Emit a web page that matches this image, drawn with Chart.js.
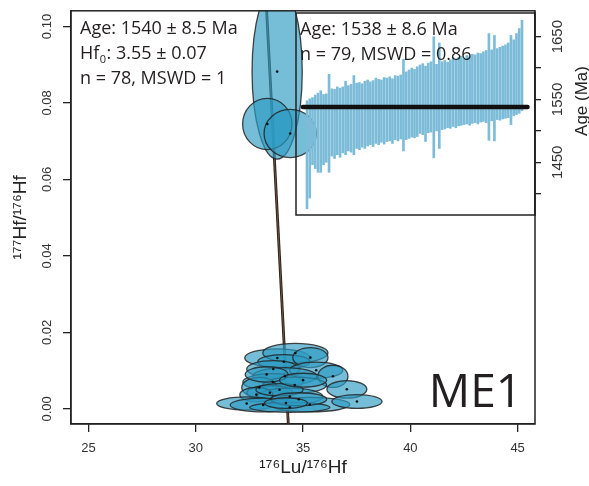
<!DOCTYPE html>
<html>
<head>
<meta charset="utf-8">
<script src="https://cdn.jsdelivr.net/npm/chart.js@4.4.0/dist/chart.umd.min.js"></script>
<style>
  html, body { margin: 0; padding: 0; background: #fff; }
  #wrap { position: relative; width: 589px; height: 486px; overflow: hidden; }
  #main { position: absolute; left: 0; top: 0; }
  #inset { position: absolute; left: 292px; top: 4px; }
</style>
</head>
<body>
<div id="wrap">
  <canvas id="main" width="589" height="486"></canvas>
  <canvas id="inset" width="297" height="220"></canvas>
</div>
<script>
// isochron error ellipses: centre and half axes, in data units
const ellX  = [33.79, 33.33, 34.40,
               33.80, 34.64, 34.10, 35.34, 33.61, 35.61, 36.39, 34.15, 33.59, 34.61, 32.96,
               37.04, 33.45, 34.38, 32.82, 32.37, 33.14, 35.31, 34.38, 37.51, 33.90, 34.80,
               33.30, 35.00, 34.20];
const ellY  = [0.0882, 0.0745, 0.0720,
               0.0133, 0.0146, 0.0123, 0.0134, 0.0104, 0.0101, 0.0085, 0.0085, 0.0070, 0.0062, 0.0056,
               0.0051, 0.0042, 0.0032, 0.0037, 0.0014, 0.0010, 0.0011, 0.0004, 0.0019, 0.0050, 0.0025,
               0.0090, 0.0075, 0.0015];
const ellSx = [1.17, 1.15, 1.22,
               1.52, 1.52, 1.21, 0.82, 1.24, 1.24, 0.70, 1.49, 1.40, 1.49, 0.82,
               0.93, 1.07, 1.54, 0.77, 1.40, 1.54, 1.87, 1.87, 1.17, 1.10, 1.30,
               1.00, 1.10, 1.00];
const ellSy = [0.0229, 0.0067, 0.0063,
               0.0024, 0.0025, 0.0019, 0.0026, 0.0022, 0.0021, 0.0029, 0.0023, 0.0022, 0.0021, 0.0026,
               0.0023, 0.0019, 0.0022, 0.0019, 0.0017, 0.0018, 0.0019, 0.0013, 0.0018, 0.0016, 0.0017,
               0.0020, 0.0018, 0.0014];

// regression line
const isoLineX = [34.31, 33.30];
const isoLineY = [-0.004, 0.1041];

const xTicks = [25, 30, 35, 40, 45];
const yTicks = [0, 0.02, 0.04, 0.06, 0.08, 0.10];

// inset: single ages with 2s bars, sorted
const ageLow  = [1376, 1393, 1446, 1440, 1434, 1434, 1446, 1450, 1434, 1460,
                 1456, 1462, 1458, 1465, 1462, 1468, 1466, 1462, 1472, 1470,
                 1474, 1472, 1476, 1478, 1475, 1480, 1478, 1482, 1479, 1483,
                 1484, 1480, 1486, 1484, 1487, 1468, 1486, 1488, 1490, 1489,
                 1491, 1496, 1494, 1483, 1497, 1498, 1457, 1500, 1472, 1502,
                 1503, 1505, 1504, 1507, 1505, 1508, 1509, 1510, 1511, 1509,
                 1512, 1513, 1511, 1514, 1515, 1513, 1485, 1516, 1484, 1518,
                 1517, 1519, 1520, 1521, 1510, 1524, 1526, 1528, 1532];
const ageHigh = [1548, 1551, 1553, 1557, 1560, 1564, 1558, 1559, 1590, 1567,
                 1566, 1570, 1568, 1570, 1579, 1572, 1574, 1588, 1576, 1577,
                 1575, 1579, 1581, 1578, 1580, 1584, 1582, 1581, 1585, 1584,
                 1586, 1583, 1588, 1587, 1589, 1614, 1594, 1597, 1600, 1598,
                 1602, 1605, 1607, 1603, 1608, 1610, 1650, 1606, 1640, 1610,
                 1612, 1609, 1613, 1616, 1614, 1617, 1619, 1615, 1620, 1618,
                 1622, 1621, 1624, 1623, 1626, 1628, 1655, 1629, 1652, 1631,
                 1633, 1635, 1637, 1640, 1652, 1645, 1655, 1663, 1676];
const meanAge = 1538;
const meanSpan = [-0.5, 81];
const ageTicks = [1400, 1450, 1500, 1550, 1600, 1650];
const ageTickLabels = [1450, 1550, 1650];

const ink = '#231f20';

// ellipses go on top of the regression line, under the centre dots
const ellipsePlugin = {
  id: 'ellipses',
  afterDatasetDraw(chart, args) {
    if (args.index !== 1) return;
    const {ctx, chartArea: a, scales: {x, y}} = chart;
    ctx.save();
    ctx.beginPath();
    ctx.rect(a.left, a.top, a.right - a.left, a.bottom - a.top);
    ctx.clip();
    ctx.fillStyle = 'rgba(45,155,195,0.65)';
    ctx.strokeStyle = 'rgba(35,35,35,0.85)';
    ctx.lineWidth = 1.3;
    for (let i = 0; i < ellX.length; i++) {
      const cx = x.getPixelForValue(ellX[i]);
      const cy = y.getPixelForValue(ellY[i]);
      const rx = Math.abs(x.getPixelForValue(ellX[i] + ellSx[i]) - cx);
      const ry = Math.abs(y.getPixelForValue(ellY[i] + ellSy[i]) - cy);
      ctx.beginPath();
      ctx.ellipse(cx, cy, rx, ry, 0, 0, Math.PI * 2);
      ctx.fill();
      ctx.stroke();
    }
    ctx.restore();
  }
};

const mainDeco = {
  id: 'mainDeco',
  afterDraw(chart) {
    const {ctx, chartArea: a} = chart;
    ctx.save();
    ctx.strokeStyle = '#222';
    ctx.lineWidth = 1.5;
    ctx.strokeRect(a.left, a.top, a.right - a.left, a.bottom - a.top);

    ctx.fillStyle = ink;
    ctx.textBaseline = 'alphabetic';
    const tx = a.left + 9;
    ctx.font = '18px "Open Sans"';
    ctx.fillText('Age: 1540 ± 8.5 Ma', tx, a.top + 23);
    ctx.fillText('Hf', tx, a.top + 48);
    const w = ctx.measureText('Hf').width;
    ctx.font = '11px "Open Sans"';
    ctx.fillText('0', tx + w + 0.5, a.top + 52);
    const w0 = ctx.measureText('0').width;
    ctx.font = '18px "Open Sans"';
    ctx.fillText(': 3.55 ± 0.07', tx + w + w0 + 1, a.top + 48);
    ctx.fillText('n = 78, MSWD = 1', tx, a.top + 73);

    ctx.font = '46px "Open Sans"';
    ctx.textAlign = 'right';
    ctx.fillText('ME1', a.right - 13, a.bottom - 17);
    ctx.restore();
  }
};

const axisTick = {
  grid: { drawOnChartArea: false, drawTicks: true, tickLength: 8, color: '#222', lineWidth: 1.3 },
  border: { display: true, color: '#222', width: 1.3 }
};

new Chart(document.getElementById('main'), {
  type: 'scatter',
  data: {
    datasets: [
      {
        type: 'line',
        label: 'isochron',
        data: isoLineX.map((v, i) => ({x: v, y: isoLineY[i]})),
        borderColor: '#2a1d15',
        borderWidth: 2.8,
        pointRadius: 0,
        order: 4
      },
      {
        type: 'line',
        label: 'isochron core',
        data: isoLineX.map((v, i) => ({x: v, y: isoLineY[i]})),
        borderColor: 'rgba(150,115,90,0.8)',
        borderWidth: 0.8,
        pointRadius: 0,
        order: 3
      },
      {
        label: 'centres',
        data: ellX.map((v, i) => ({x: v, y: ellY[i]})),
        backgroundColor: '#111',
        borderWidth: 0,
        pointRadius: 1.3,
        order: 1
      }
    ]
  },
  options: {
    responsive: false,
    animation: false,
    layout: { padding: { top: 8, right: 54, left: 0, bottom: 0 } },
    plugins: { legend: { display: false }, tooltip: { enabled: false } },
    scales: {
      x: {
        type: 'linear',
        min: 24.18,
        max: 45.81,
        ...axisTick,
        afterBuildTicks: s => { s.ticks = xTicks.map(v => ({value: v})); },
        afterFit: s => { s.height = 62; },
        ticks: {
          font: { family: 'Liberation Sans', size: 13 },
          color: '#333',
          padding: 9,
          maxRotation: 0,
          autoSkip: false
        },
        title: {
          display: true,
          text: '¹⁷⁶Lu/¹⁷⁶Hf',
          font: { family: 'Liberation Sans', size: 19 },
          color: '#222',
          padding: { top: 0, bottom: 7 }
        }
      },
      y: {
        min: -0.00397,
        max: 0.1041,
        ...axisTick,
        afterBuildTicks: s => { s.ticks = yTicks.map(v => ({value: v})); },
        afterFit: s => { s.width = 71; },
        ticks: {
          font: { family: 'Liberation Sans', size: 13 },
          color: '#333',
          padding: 3,
          minRotation: 90,
          maxRotation: 90,
          crossAlign: 'center',
          autoSkip: false,
          callback: v => v.toFixed(2)
        },
        title: {
          display: true,
          text: '¹⁷⁷Hf/¹⁷⁶Hf',
          font: { family: 'Liberation Sans', size: 19 },
          color: '#222',
          padding: { top: 9, bottom: 0 }
        }
      }
    }
  },
  plugins: [ellipsePlugin, mainDeco]
});

const insetDeco = {
  id: 'insetDeco',
  afterDraw(chart) {
    const {ctx, chartArea: a} = chart;
    ctx.save();
    ctx.strokeStyle = '#222';
    ctx.lineWidth = 1.5;
    ctx.strokeRect(a.left, a.top, a.right - a.left, a.bottom - a.top);
    ctx.fillStyle = ink;
    ctx.font = '18px "Open Sans"';
    ctx.fillText('Age: 1538 ± 8.6 Ma', a.left + 4, a.top + 22);
    ctx.fillText('n = 79, MSWD = 0.86', a.left + 4, a.top + 47);
    // right axis title, reading upwards
    ctx.translate(a.right + 52, 97);
    ctx.rotate(-Math.PI / 2);
    ctx.textAlign = 'center';
    ctx.textBaseline = 'alphabetic';
    ctx.font = '17px "Liberation Sans"';
    ctx.fillStyle = '#222';
    ctx.fillText('Age (Ma)', 0, 0);
    ctx.restore();
  }
};

new Chart(document.getElementById('inset'), {
  type: 'bar',
  data: {
    datasets: [
      {
        type: 'line',
        label: 'weighted mean',
        data: meanSpan.map(v => ({x: v, y: meanAge})),
        borderColor: '#111',
        borderWidth: 4.5,
        borderCapStyle: 'round',
        pointRadius: 0,
        order: 0
      },
      {
        label: 'ages',
        data: ageLow.map((lo, i) => ({x: i + 1, y: [lo, ageHigh[i]]})),
        backgroundColor: '#7dbcd8',
        barThickness: 2,
        order: 1
      }
    ]
  },
  options: {
    responsive: false,
    animation: false,
    layout: { padding: { top: 4, left: 4, bottom: 5, right: 0 } },
    plugins: { legend: { display: false }, tooltip: { enabled: false } },
    scales: {
      x: { type: 'linear', min: -2.99, max: 83.72, offset: false, display: false },
      y: {
        position: 'right',
        min: 1366,
        max: 1687.7,
        grid: { drawOnChartArea: false, drawTicks: true, tickLength: 6, color: '#222', lineWidth: 1.3 },
        border: { display: true, color: '#222', width: 1.3 },
        afterBuildTicks: s => { s.ticks = ageTicks.map(v => ({value: v})); },
        afterFit: s => { s.width = 54; },
        ticks: {
          font: { family: 'Liberation Sans', size: 15 },
          color: '#333',
          padding: 0,
          minRotation: 90,
          maxRotation: 90,
          crossAlign: 'center',
          autoSkip: false,
          callback: v => ageTickLabels.includes(v) ? String(v) : ''
        }
      }
    }
  },
  plugins: [insetDeco]
});
</script>
</body>
</html>
